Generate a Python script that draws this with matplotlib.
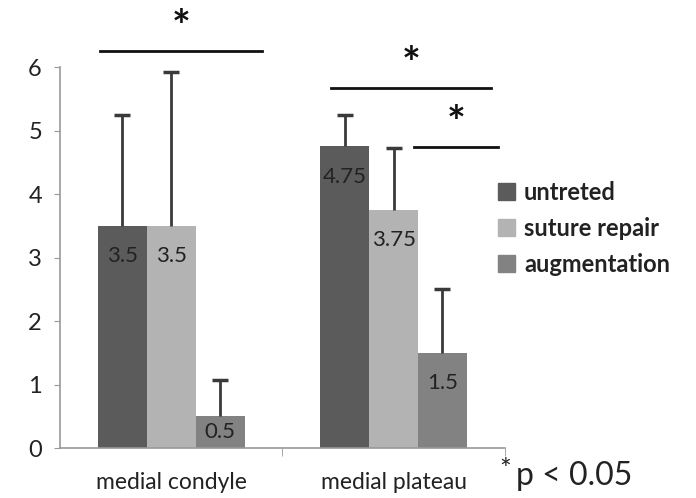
import matplotlib.pyplot as plt
from matplotlib.patches import Patch

categories = ['medial condyle', 'medial plateau']
series = ['untreted', 'suture repair', 'augmentation']
values = [[3.5, 4.75], [3.5, 3.75], [0.5, 1.5]]
errors = [[1.75, 0.5], [2.42, 0.97], [0.57, 1.0]]
value_labels = [['3.5', '4.75'], ['3.5', '3.75'], ['0.5', '1.5']]
colors = ['#5b5b5b', '#b3b3b3', '#828282']

# significance brackets: (x start, x end, y level)
sig_lines = [(-0.32, 0.41, 6.25), (0.72, 1.44, 5.67), (1.09, 1.47, 4.74)]

plt.rcParams['font.family'] = ['Lato', 'DejaVu Sans']

fig = plt.figure(figsize=(6.96, 4.98), dpi=100)
ax = fig.add_axes([0.0862, 0.1004, 0.639, 0.765])

w = 0.22
for i, name in enumerate(series):
    xs = [c + (i - 1) * w for c in range(len(categories))]
    tops = [v + e for v, e in zip(values[i], errors[i])]
    ax.bar(xs, values[i], width=w, color=colors[i], label=name, zorder=2)
    ax.vlines(xs, values[i], tops, color='#3a3a3a', lw=2, zorder=3)
    ax.plot(xs, tops, ls='none', marker='_', ms=11, mew=2.5, color='#3a3a3a', zorder=3)
    for x, v, lab in zip(xs, values[i], value_labels[i]):
        off = min(22, v * 63.5 * 0.72 / 2)
        ax.annotate(lab, (x, v), xytext=(0, -off), textcoords='offset points',
                    ha='center', va='center', fontsize=16, color='#222222', zorder=4)

for x0, x1, y in sig_lines:
    ax.plot([x0, x1], [y, y], color='#111111', lw=2, clip_on=False)
    ax.text((x0 + x1) / 2, y + 0.05, '*', ha='center', va='bottom',
            fontsize=32, fontweight='bold', color='#111111', clip_on=False)

ax.set_xlim(-0.5, 1.5)
ax.set_ylim(0, 6)
ax.set_yticks(range(7))
ax.set_xticks([0, 1])
ax.set_xticklabels(categories)
ax.set_xticks([0.5, 1.5], minor=True)
ax.tick_params(axis='x', which='major', length=0, pad=17, labelsize=16.5, labelcolor='#222222')
ax.tick_params(axis='x', which='minor', length=6, color='#999999', direction='out')
ax.tick_params(axis='y', length=4, color='#999999', pad=9, labelsize=17, labelcolor='#222222')

for s in ['top', 'right']:
    ax.spines[s].set_visible(False)
for s in ['left', 'bottom']:
    ax.spines[s].set_color('#999999')
    ax.spines[s].set_linewidth(1.2)

handles = [Patch(color=c, label=n) for c, n in zip(colors, series)]
fig.legend(handles=handles, loc='upper left', bbox_to_anchor=(0.685, 0.68),
           frameon=False, handlelength=0.7, handleheight=0.7, handletextpad=0.4,
           labelspacing=0.55, prop={'family': 'Lato', 'weight': 'bold', 'size': 17},
           labelcolor='#222222')

fig.text(0.718, 0.08, '*', fontsize=20, color='#222222', va='top')
fig.text(0.742, 0.045, 'p < 0.05', fontsize=23, color='#222222', va='center')

fig.savefig('out.png', dpi=100)
